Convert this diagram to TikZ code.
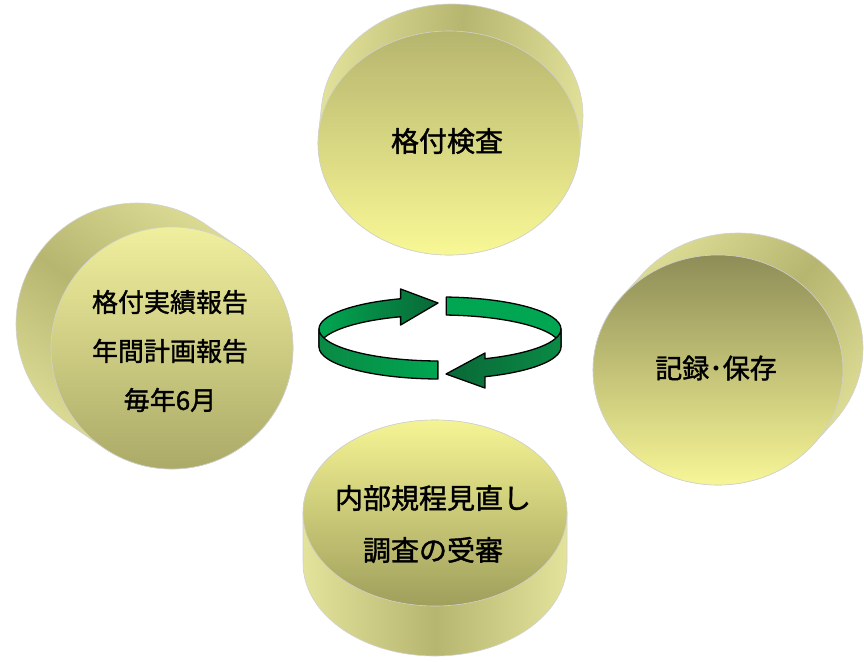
\documentclass[tikz,border=0pt]{standalone}
\usepackage{fontspec}
\setmainfont[FakeBold=1.4]{Noto Sans CJK JP}
\usetikzlibrary{calc}
\definecolor{sideL}{HTML}{E4E39C}
\definecolor{sideD}{HTML}{B7B670}
\definecolor{gBright}{HTML}{00A651}
\definecolor{gMid}{HTML}{0A8A45}
\definecolor{gDark}{HTML}{0A6837}
\tikzset{
  discedge/.style={draw=black!18, line width=0.6pt},
  ribbon/.style={draw=black, line width=1.3pt, line join=round},
  label/.style={font=\fontsize{#1}{#1}\selectfont, text=black, inner sep=0pt},
}
% #1 cx #2 cy (px, down) #3 rx #4 ry #5 dx #6 dy (offset of back face, px down) #7 top colour #8 bottom colour
\newcommand\mydisc[8]{%
  \definecolor{faceT}{HTML}{#7}%
  \definecolor{faceB}{HTML}{#8}%
  \pgfmathsetmacro\dtz{atan2(-(#4)*(#5),(#3)*(-(#6)))}%
  \pgfmathsetmacro\dte{\dtz+180}%
  \pgfmathsetmacro\dtf{\dtz+360}%
  \pgfmathsetmacro\dang{atan2(-(#6),(#5))}%
  \pgfmathsetmacro\dbx{(#1)+(#5)}%
  \pgfmathsetmacro\dby{-(#2)-(#6)}%
  \shade[discedge, top color=sideL, bottom color=sideL, middle color=sideD, shading angle=\dang]
    ($(\dbx,\dby)+(\dtz:#3pt and #4pt)$)
    arc[start angle=\dtz, end angle=\dte, x radius=#3pt, y radius=#4pt]
    -- ($(#1,-#2)+(\dte:#3pt and #4pt)$)
    arc[start angle=\dte, end angle=\dtf, x radius=#3pt, y radius=#4pt]
    -- cycle;
  \shade[discedge, top color=faceT, bottom color=faceB] (#1,-#2) ellipse [x radius=#3pt, y radius=#4pt];
}
\begin{document}
\begin{tikzpicture}[x=1pt,y=1pt]
\useasboundingbox (0,0) rectangle (864,-661);
% discs
\mydisc{449}{143}{131}{112}{3}{-27}{B6B56E}{F9F896}
\mydisc{172}{348}{121}{121}{-35}{-24}{F0EF9E}{ABAA67}
\mydisc{718}{370}{125}{115}{20}{-22}{8E8D57}{F7F697}
\mydisc{435}{513}{132}{93}{0}{50}{F5F494}{A09F5C}
% ring of arrows
\coordinate (rc) at (440,-329);
\coordinate (rcb) at (440,-347);
% back upper-left piece with arrowhead
\draw[ribbon, left color=gBright, right color=gDark]
  ($(rc)+(180:121pt and 32pt)$) arc[start angle=180, end angle=109, x radius=121pt, y radius=32pt]
  -- (400.6,-289) -- (438,-303) -- (400.6,-325)
  -- ($(rcb)+(109:121pt and 32pt)$) arc[start angle=109, end angle=180, x radius=121pt, y radius=32pt]
  -- cycle;
% back right piece
\draw[ribbon, fill=gBright]
  ($(rc)+(87:121pt and 32pt)$) arc[start angle=87, end angle=0, x radius=121pt, y radius=32pt]
  -- ($(rcb)+(0:121pt and 32pt)$) arc[start angle=0, end angle=87, x radius=121pt, y radius=32pt]
  -- cycle;
% front right piece with arrowhead
\draw[ribbon, left color=gDark, right color=gMid]
  ($(rc)+(360:121pt and 32pt)$) arc[start angle=360, end angle=291.8, x radius=121pt, y radius=32pt]
  -- (485,-353) -- (446,-374) -- (485,-388)
  -- ($(rcb)+(291.8:121pt and 32pt)$) arc[start angle=291.8, end angle=360, x radius=121pt, y radius=32pt]
  -- cycle;
% front lower-left piece
\draw[ribbon, left color=gMid, right color=gBright]
  ($(rc)+(269:121pt and 32pt)$) arc[start angle=269, end angle=180, x radius=121pt, y radius=32pt]
  -- ($(rcb)+(180:121pt and 32pt)$) arc[start angle=180, end angle=269, x radius=121pt, y radius=32pt]
  -- cycle;
% texts
\node[label=28] (t1) at (447,-141) {格付検査};
\node[label=26, align=center, font=\fontsize{26}{49}\selectfont] (t2) at (170,-351) {格付実績報告\\年間計画報告\\毎年6月};
\node[label=27] (t3) at (716,-368) {記録･保存};
\node[label=28, align=center, font=\fontsize{28}{52}\selectfont] (t4) at (433,-524) {内部規程見直し\\調査の受審};
\end{tikzpicture}
\end{document}
